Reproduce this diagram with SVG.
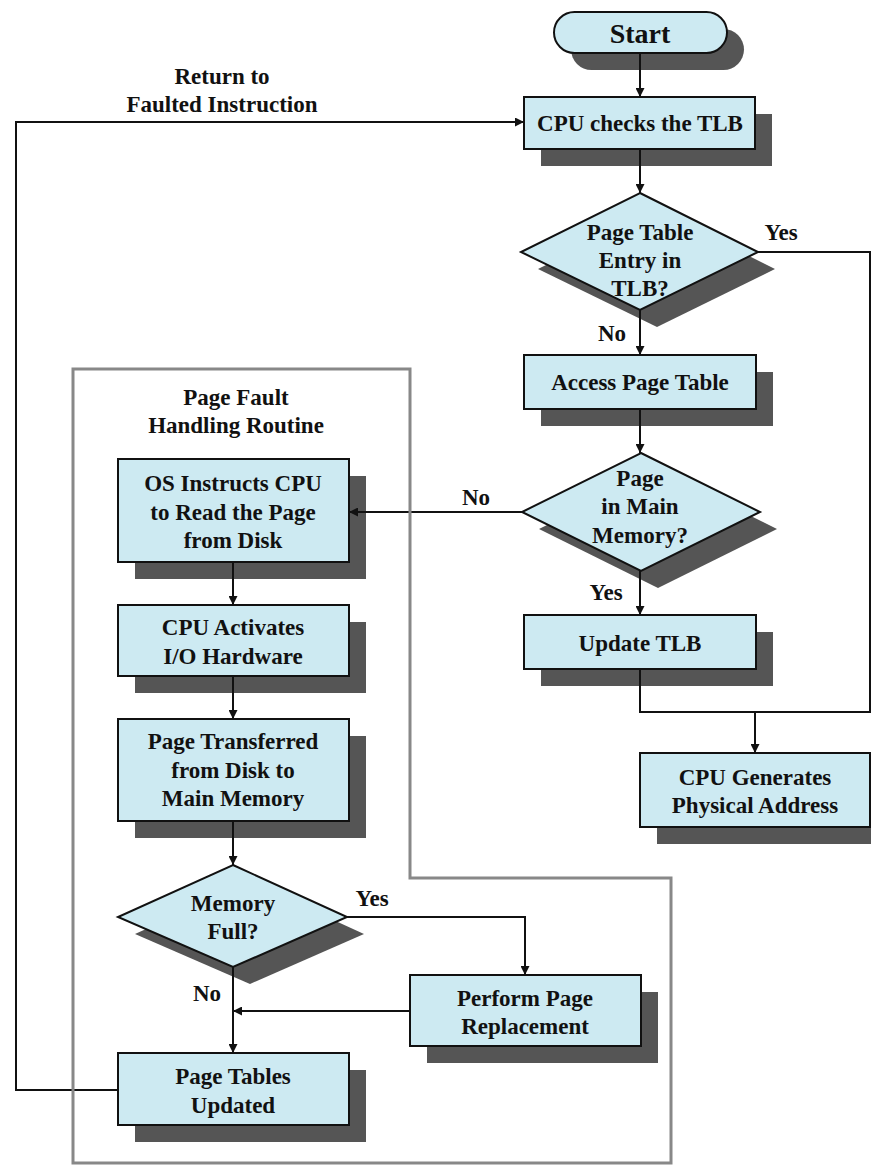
<svg xmlns="http://www.w3.org/2000/svg" width="871" height="1165" viewBox="0 0 871 1165">
  <defs>
    <marker id="arrow" viewBox="0 0 10 10" refX="10" refY="5" markerWidth="9" markerHeight="9" markerUnits="userSpaceOnUse" orient="auto">
      <path d="M0,0 L10,5 L0,10 Z" fill="#111"/>
    </marker>
    <style>
      .node { fill: #cdeaf2; stroke: #111; stroke-width: 2; }
      .shadow { fill: #555; }
      .label { font-family: "Liberation Serif", "Times New Roman", serif; font-weight: bold; font-size: 23px; fill: #111; text-anchor: middle; }
      .big { font-size: 28px; }
      .conn { fill: none; stroke: #111; stroke-width: 2; }
      .arrow { marker-end: url(#arrow); }
      .frame { fill: none; stroke: #888; stroke-width: 3; }
    </style>
  </defs>

  <rect width="871" height="1165" fill="#fff"/>

  <g id="start">
    <rect class="shadow" x="571" y="29" width="173" height="41" rx="20.5"/>
    <rect class="node" x="554" y="12" width="173" height="41" rx="20.5"/>
    <text class="label big" x="640" y="43">Start</text>
  </g>

  <g id="cpu-checks-tlb">
    <rect class="shadow" x="541" y="114" width="231" height="52"/>
    <rect class="node" x="524" y="97" width="231" height="52"/>
    <text class="label" x="640" y="131">CPU checks the TLB</text>
  </g>

  <g id="pte-in-tlb">
    <polygon class="shadow" points="657,210 775,269 657,327 538,269"/>
    <polygon class="node" points="640,193 758,252 640,310 521,252"/>
    <text class="label" x="640" y="240">Page Table</text>
    <text class="label" x="640" y="268">Entry in</text>
    <text class="label" x="640" y="296">TLB?</text>
  </g>

  <g id="access-page-table">
    <rect class="shadow" x="541" y="372" width="232" height="54"/>
    <rect class="node" x="524" y="355" width="232" height="54"/>
    <text class="label" x="640" y="390">Access Page Table</text>
  </g>

  <g id="page-in-memory">
    <polygon class="shadow" points="658,470 777,529 658,588 539,529"/>
    <polygon class="node" points="641,453 760,512 641,571 522,512"/>
    <text class="label" x="640" y="486">Page</text>
    <text class="label" x="640" y="514">in Main</text>
    <text class="label" x="640" y="543">Memory?</text>
  </g>

  <g id="update-tlb">
    <rect class="shadow" x="541" y="632" width="232" height="54"/>
    <rect class="node" x="524" y="615" width="232" height="54"/>
    <text class="label" x="640" y="651">Update TLB</text>
  </g>

  <g id="cpu-generates-address">
    <rect class="shadow" x="657" y="770" width="230" height="74"/>
    <rect class="node" x="640" y="753" width="230" height="74"/>
    <text class="label" x="755" y="785">CPU Generates</text>
    <text class="label" x="755" y="813">Physical Address</text>
  </g>

  <g id="os-instructs-cpu">
    <rect class="shadow" x="135" y="476" width="231" height="103"/>
    <rect class="node" x="118" y="459" width="231" height="103"/>
    <text class="label" x="233" y="491">OS Instructs CPU</text>
    <text class="label" x="233" y="520">to Read the Page</text>
    <text class="label" x="233" y="548">from Disk</text>
  </g>

  <g id="cpu-activates-io">
    <rect class="shadow" x="135" y="622" width="231" height="71"/>
    <rect class="node" x="118" y="605" width="231" height="71"/>
    <text class="label" x="233" y="635">CPU Activates</text>
    <text class="label" x="233" y="664">I/O Hardware</text>
  </g>

  <g id="page-transferred">
    <rect class="shadow" x="135" y="736" width="231" height="102"/>
    <rect class="node" x="118" y="719" width="231" height="102"/>
    <text class="label" x="233" y="749">Page Transferred</text>
    <text class="label" x="233" y="778">from Disk to</text>
    <text class="label" x="233" y="806">Main Memory</text>
  </g>

  <g id="memory-full">
    <polygon class="shadow" points="250,882 364,934 250,984 135,934"/>
    <polygon class="node" points="233,865 347,917 233,967 118,917"/>
    <text class="label" x="233" y="911">Memory</text>
    <text class="label" x="233" y="939">Full?</text>
  </g>

  <g id="perform-page-replacement">
    <rect class="shadow" x="427" y="992" width="231" height="71"/>
    <rect class="node" x="410" y="975" width="231" height="71"/>
    <text class="label" x="525" y="1006">Perform Page</text>
    <text class="label" x="525" y="1034">Replacement</text>
  </g>

  <g id="page-tables-updated">
    <rect class="shadow" x="135" y="1070" width="231" height="72"/>
    <rect class="node" x="118" y="1053" width="231" height="72"/>
    <text class="label" x="233" y="1084">Page Tables</text>
    <text class="label" x="233" y="1113">Updated</text>
  </g>

  <!-- connectors, drawn over the drop shadows -->
  <g id="connectors">
    <path class="conn arrow" d="M640,53 V97"/>
    <path class="conn arrow" d="M640,149 V193"/>
    <path class="conn arrow" d="M640,310 V355"/>
    <path class="conn" d="M758,252 H870 V712 H640 V669"/>
    <path class="conn arrow" d="M755,712 V753"/>
    <path class="conn arrow" d="M640,409 V453"/>
    <path class="conn arrow" d="M640,571 V615"/>
    <path class="conn arrow" d="M522,512 H349"/>
    <path class="conn arrow" d="M233,562 V605"/>
    <path class="conn arrow" d="M233,676 V719"/>
    <path class="conn arrow" d="M233,821 V865"/>
    <path class="conn arrow" d="M347,917 H525 V975"/>
    <path class="conn arrow" d="M233,967 V1053"/>
    <path class="conn arrow" d="M410,1011 H233"/>
    <path class="conn arrow" d="M118,1090 H16 V122 H524"/>
    <text class="label" x="222" y="84">Return to</text>
    <text class="label" x="222" y="112">Faulted Instruction</text>
    <text class="label" x="781" y="240">Yes</text>
    <text class="label" x="612" y="341">No</text>
    <text class="label" x="606" y="600">Yes</text>
    <text class="label" x="476" y="505">No</text>
    <text class="label" x="372" y="906">Yes</text>
    <text class="label" x="207" y="1001">No</text>
  </g>

  <!-- page fault handling routine frame -->
  <g id="page-fault-routine">
    <path class="frame" d="M73,1163 V369 H410 V878 H671 V1163 Z"/>
    <text class="label" x="236" y="405">Page Fault</text>
    <text class="label" x="236" y="433">Handling Routine</text>
  </g>
</svg>
